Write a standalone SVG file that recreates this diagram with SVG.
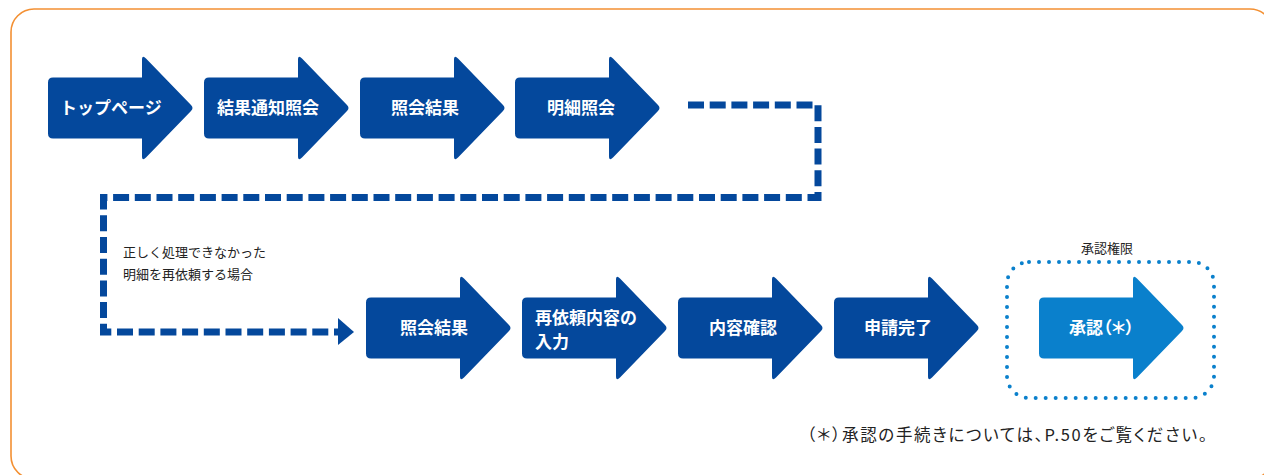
<svg xmlns="http://www.w3.org/2000/svg" width="1264" height="475" viewBox="0 0 1264 475">
<style>
.frame{fill:#fff;stroke:#f39033;stroke-width:1.6}
.arr{fill:#04489c}
.arr2{fill:#0a80cc}
.lbl{font-family:"Noto Sans CJK JP","Noto Sans",sans-serif;font-size:17px;font-weight:bold;fill:#fff}
.palt{font-feature-settings:"palt"}
.note{font-family:"Noto Sans CJK JP","Noto Sans",sans-serif;font-size:13px;fill:#222}
.foot{font-family:"Noto Sans CJK JP","Noto Sans",sans-serif;font-size:16.5px;fill:#222}
.dash{fill:none;stroke:#04489c;stroke-width:7;stroke-dasharray:16 5.7}
.dots{fill:none;stroke:#0a80cc;stroke-width:4;stroke-dasharray:0 10;stroke-linecap:round}
</style>
<defs>
<path id="ar" d="M5,-30.5 L94,-30.5 L94,-48 Q94,-53.5 98,-49.5 L143,-3 Q146,0 143,3 L98,49.5 Q94,53.5 94,48 L94,30.5 L5,30.5 Q0,30.5 0,25.5 L0,-25.5 Q0,-30.5 5,-30.5 Z"/>
</defs>
<rect class="frame" x="11" y="9" width="1262" height="470" rx="23"/>
<g id="connectors">
<path class="dash" d="M688,105 H818 V197.5 H103.5 V332 H338"/>
<polygon points="338,318 354,332 338,345" fill="#04489c"/>
</g>
<g id="n1"><use href="#ar" class="arr" x="48" y="108"/><text class="lbl" x="60" y="114">トップページ</text></g>
<g id="n2"><use href="#ar" class="arr" x="204" y="108"/><text class="lbl" x="217" y="114">結果通知照会</text></g>
<g id="n3"><use href="#ar" class="arr" x="360" y="108"/><text class="lbl" x="391" y="114">照会結果</text></g>
<g id="n4"><use href="#ar" class="arr" x="515" y="108"/><text class="lbl" x="547" y="114">明細照会</text></g>
<g id="note1"><text class="note" x="123" y="257">正しく処理できなかった</text><text class="note" x="123" y="279">明細を再依頼する場合</text></g>
<g id="n5"><use href="#ar" class="arr" x="366" y="328"/><text class="lbl" x="400" y="334">照会結果</text></g>
<g id="n6"><use href="#ar" class="arr" x="522" y="328"/><text class="lbl" x="535" y="324">再依頼内容の</text><text class="lbl" x="535" y="348">入力</text></g>
<g id="n7"><use href="#ar" class="arr" x="678" y="328"/><text class="lbl" x="709" y="334">内容確認</text></g>
<g id="n8"><use href="#ar" class="arr" x="834" y="328"/><text class="lbl" x="864" y="334">申請完了</text></g>
<g id="auth">
<text class="note" x="1107" y="253" text-anchor="middle">承認権限</text>
<rect class="dots" x="1007" y="262" width="207" height="136" rx="22"/>
</g>
<g id="n9"><use href="#ar" class="arr2" x="1039" y="328"/><text class="lbl palt" x="1069" y="334">承認（＊）</text></g>
<g id="footnote"><text class="foot palt" x="807" y="441" textLength="400" lengthAdjust="spacing">（＊）承認の手続きについては、P.50をご覧ください。</text></g>
</svg>
